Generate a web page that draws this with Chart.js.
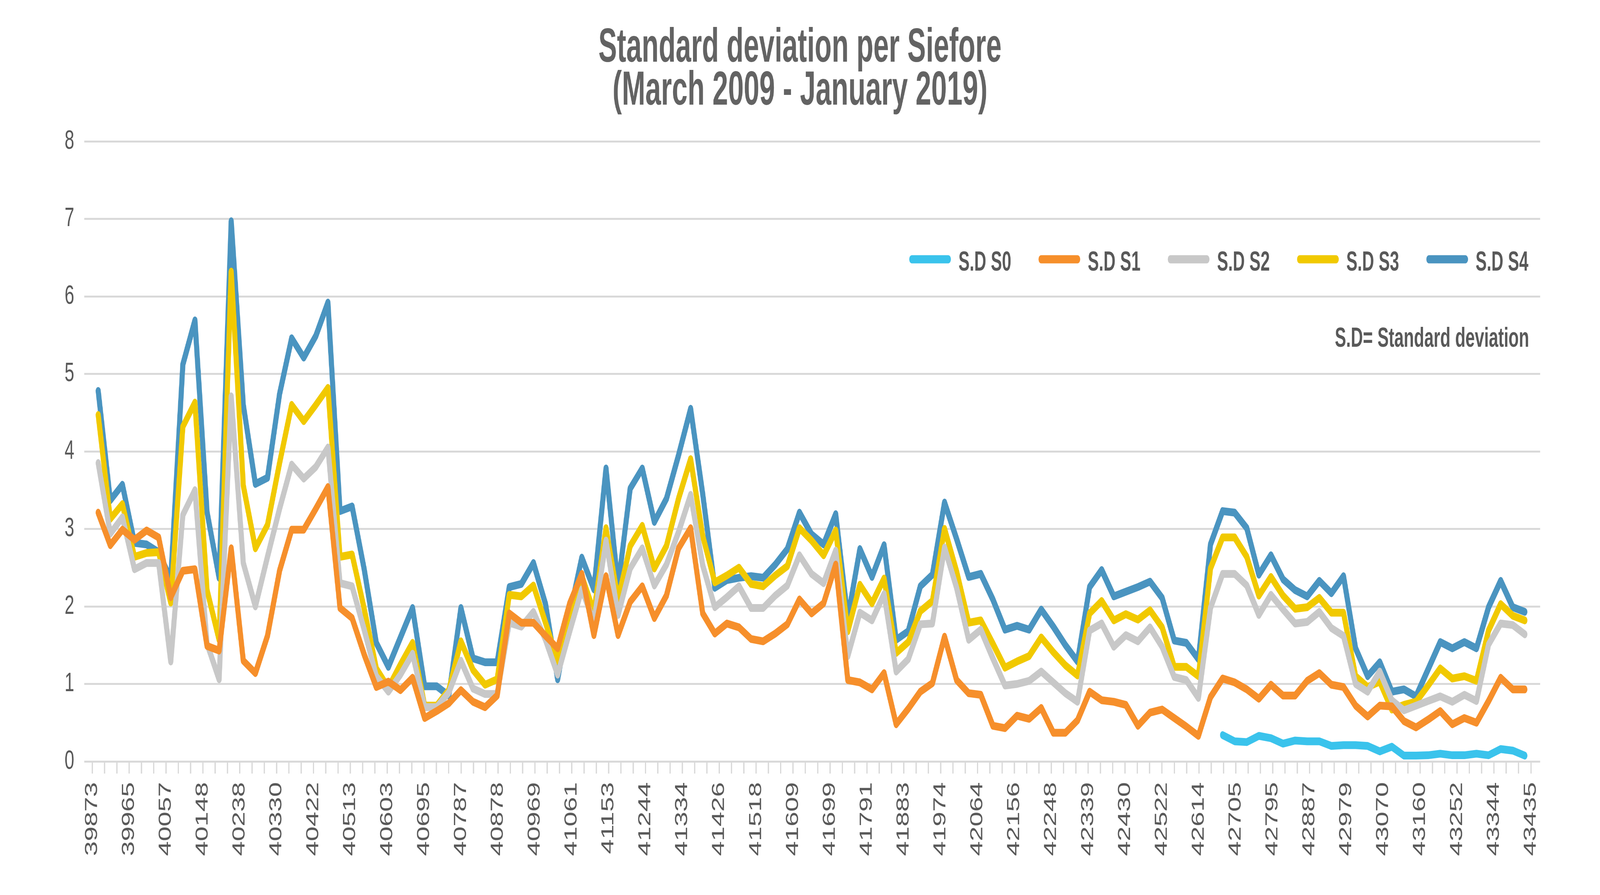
<!DOCTYPE html>
<html>
<head>
<meta charset="utf-8">
<title>Standard deviation per Siefore</title>
<script src="https://cdn.jsdelivr.net/npm/chart.js@4.4.1/dist/chart.umd.min.js"></script>
<style>
  html, body { margin: 0; padding: 0; background: #ffffff; overflow: hidden; }
  #stage { width: 6250px; height: 2292px; position: absolute; left: 0; top: 0; transform-origin: 0 0; }
</style>
</head>
<body>
<div id="stage"><canvas id="sdChart"></canvas></div>
<script>
// monthly observations, Excel date serials (March 2009 - January 2019)
var months = [
  39873, 39904, 39934, 39965, 39995, 40026, 40057, 40087, 40118, 40148,
  40179, 40210, 40238, 40269, 40299, 40330, 40360, 40391, 40422, 40452,
  40483, 40513, 40544, 40575, 40603, 40634, 40664, 40695, 40725, 40756,
  40787, 40817, 40848, 40878, 40909, 40940, 40969, 41000, 41030, 41061,
  41091, 41122, 41153, 41183, 41214, 41244, 41275, 41306, 41334, 41365,
  41395, 41426, 41456, 41487, 41518, 41548, 41579, 41609, 41640, 41671,
  41699, 41730, 41760, 41791, 41821, 41852, 41883, 41913, 41944, 41974,
  42005, 42036, 42064, 42095, 42125, 42156, 42186, 42217, 42248, 42278,
  42309, 42339, 42370, 42401, 42430, 42461, 42491, 42522, 42552, 42583,
  42614, 42644, 42675, 42705, 42736, 42767, 42795, 42826, 42856, 42887,
  42917, 42948, 42979, 43009, 43040, 43070, 43101, 43132, 43160, 43191,
  43221, 43252, 43282, 43313, 43344, 43374, 43405, 43435, 43466
];
// the printed axis stops at 43435 (one slot fewer than the series)
var tickMonths = months.slice(0, 118);

var seriesNames = ['S.D S0', 'S.D S1', 'S.D S2', 'S.D S3', 'S.D S4'];

var s0 = [
  null, null, null, null, null, null, null, null, null, null,
  null, null, null, null, null, null, null, null, null, null,
  null, null, null, null, null, null, null, null, null, null,
  null, null, null, null, null, null, null, null, null, null,
  null, null, null, null, null, null, null, null, null, null,
  null, null, null, null, null, null, null, null, null, null,
  null, null, null, null, null, null, null, null, null, null,
  null, null, null, null, null, null, null, null, null, null,
  null, null, null, null, null, null, null, null, null, null,
  null, null, null, 0.34, 0.26, 0.25, 0.33, 0.30, 0.23, 0.27,
  0.26, 0.26, 0.20, 0.21, 0.21, 0.20, 0.13, 0.19, 0.075, 0.075,
  0.08, 0.10, 0.08, 0.08, 0.10, 0.08, 0.16, 0.14, 0.075
];
var s1 = [
  3.21, 2.79, 2.99, 2.86, 2.98, 2.89, 2.12, 2.46, 2.48, 1.49,
  1.43, 2.75, 1.30, 1.14, 1.62, 2.46, 2.99, 2.99, 3.26, 3.54,
  1.98, 1.85, 1.38, 0.96, 1.03, 0.92, 1.08, 0.56, 0.65, 0.75,
  0.92, 0.77, 0.70, 0.85, 1.91, 1.79, 1.79, 1.62, 1.46, 2.04,
  2.42, 1.63, 2.39, 1.63, 2.06, 2.26, 1.85, 2.14, 2.75, 3.01,
  1.91, 1.65, 1.78, 1.73, 1.58, 1.55, 1.65, 1.77, 2.09, 1.91,
  2.04, 2.54, 1.05, 1.02, 0.93, 1.14, 0.48, 0.68, 0.90, 1.01,
  1.61, 1.05, 0.88, 0.86, 0.46, 0.43, 0.59, 0.55, 0.69, 0.37,
  0.37, 0.53, 0.90, 0.79, 0.77, 0.73, 0.46, 0.63, 0.67, 0.56,
  0.45, 0.33, 0.83, 1.07, 1.02, 0.93, 0.81, 0.99, 0.85, 0.85,
  1.04, 1.14, 0.99, 0.96, 0.72, 0.58, 0.72, 0.71, 0.52, 0.44,
  0.54, 0.65, 0.48, 0.56, 0.50, 0.78, 1.08, 0.93, 0.93
];
var s2 = [
  3.85, 2.94, 3.15, 2.48, 2.56, 2.56, 1.29, 3.18, 3.50, 1.52,
  1.06, 4.71, 2.56, 2.00, 2.64, 3.26, 3.83, 3.65, 3.80, 4.05,
  2.30, 2.26, 1.70, 1.10, 0.90, 1.12, 1.39, 0.70, 0.70, 0.89,
  1.30, 0.94, 0.87, 0.87, 1.79, 1.74, 1.93, 1.57, 1.12, 1.68,
  2.22, 1.80, 2.85, 1.89, 2.49, 2.75, 2.27, 2.54, 2.96, 3.44,
  2.53, 1.99, 2.12, 2.26, 1.98, 1.98, 2.14, 2.27, 2.66, 2.42,
  2.30, 2.72, 1.36, 1.92, 1.82, 2.16, 1.16, 1.32, 1.77, 1.78,
  2.76, 2.24, 1.57, 1.70, 1.33, 0.98, 1.00, 1.04, 1.16, 1.02,
  0.88, 0.77, 1.69, 1.78, 1.48, 1.63, 1.55, 1.73, 1.48, 1.09,
  1.05, 0.82, 1.98, 2.42, 2.42, 2.27, 1.89, 2.15, 1.96, 1.78,
  1.80, 1.93, 1.72, 1.62, 1.00, 0.90, 1.16, 0.79, 0.66, 0.72,
  0.78, 0.84, 0.77, 0.86, 0.78, 1.51, 1.78, 1.76, 1.64
];
var s3 = [
  4.47, 3.13, 3.32, 2.64, 2.69, 2.70, 2.05, 4.32, 4.63, 2.21,
  1.57, 6.32, 3.56, 2.75, 3.05, 3.85, 4.60, 4.39, 4.60, 4.82,
  2.64, 2.67, 1.97, 1.20, 0.95, 1.25, 1.53, 0.72, 0.72, 0.92,
  1.55, 1.18, 0.99, 1.06, 2.15, 2.13, 2.27, 1.79, 1.30, 1.85,
  2.39, 1.93, 3.01, 2.09, 2.78, 3.04, 2.49, 2.78, 3.39, 3.90,
  2.91, 2.31, 2.40, 2.50, 2.29, 2.26, 2.40, 2.52, 3.01, 2.85,
  2.66, 2.98, 1.68, 2.28, 2.04, 2.36, 1.40, 1.54, 1.94, 2.07,
  3.00, 2.45, 1.79, 1.82, 1.52, 1.21, 1.29, 1.36, 1.60, 1.41,
  1.24, 1.11, 1.91, 2.07, 1.82, 1.90, 1.83, 1.95, 1.73, 1.22,
  1.22, 1.10, 2.49, 2.89, 2.89, 2.64, 2.14, 2.38, 2.14, 1.97,
  1.99, 2.11, 1.92, 1.92, 1.10, 0.96, 1.03, 0.67, 0.73, 0.77,
  0.98, 1.20, 1.07, 1.10, 1.04, 1.69, 2.03, 1.88, 1.82
];
var s4 = [
  4.78, 3.37, 3.57, 2.82, 2.80, 2.70, 2.35, 5.12, 5.69, 3.22,
  2.37, 6.97, 4.60, 3.58, 3.66, 4.74, 5.46, 5.21, 5.49, 5.92,
  3.23, 3.29, 2.48, 1.53, 1.22, 1.60, 1.98, 0.97, 0.97, 0.85,
  1.98, 1.33, 1.28, 1.28, 2.25, 2.29, 2.56, 2.03, 1.06, 1.90,
  2.63, 2.22, 3.78, 2.26, 3.52, 3.78, 3.09, 3.39, 3.95, 4.55,
  3.45, 2.24, 2.34, 2.37, 2.39, 2.37, 2.54, 2.74, 3.21, 2.93,
  2.80, 3.19, 1.85, 2.74, 2.38, 2.79, 1.57, 1.68, 2.26, 2.41,
  3.34, 2.87, 2.38, 2.42, 2.09, 1.70, 1.75, 1.70, 1.96, 1.74,
  1.50, 1.29, 2.25, 2.47, 2.13, 2.19, 2.25, 2.32, 2.11, 1.56,
  1.53, 1.32, 2.80, 3.23, 3.21, 3.01, 2.41, 2.66, 2.35, 2.21,
  2.13, 2.33, 2.17, 2.39, 1.46, 1.10, 1.28, 0.90, 0.93, 0.84,
  1.19, 1.54, 1.46, 1.54, 1.46, 1.99, 2.33, 1.99, 1.93
];
var yTicks = [0, 1, 2, 3, 4, 5, 6, 7, 8];
var titleLines = ['Standard deviation per Siefore', '(March 2009 - January 2019)'];
var footNote = 'S.D= Standard deviation';

var colors = ['#3AC3EC', '#F68F2B', '#C8C8C8', '#F1C900', '#4A94C0'];
var seriesValues = [s0, s1, s2, s3, s4];

var sansFont = '"Liberation Sans", Arial, Helvetica, sans-serif';
var textGrey = '#595959';
var gridGrey = '#D9D9D9';

// the window may be narrower than the 6250px design, fit the whole chart into it
var stage = document.getElementById('stage');
var fitX = Math.min(1, window.innerWidth / 6250);
var fitY = Math.min(1, window.innerHeight / 2292);
stage.style.transform = 'scale(' + fitX + ',' + fitY + ')';

// condensed bold text: regular bold face squeezed horizontally
function condensedText(ctx, text, x, y, size, squeeze, align) {
  ctx.save();
  ctx.font = 'bold ' + size + 'px ' + sansFont;
  ctx.textAlign = align;
  ctx.textBaseline = 'alphabetic';
  ctx.translate(x, y);
  ctx.scale(squeeze, 1);
  ctx.fillText(text, 0, 0);
  ctx.restore();
}

var titleAndLegend = {
  id: 'titleAndLegend',
  afterDraw: function (chart) {
    var ctx = chart.ctx;
    var area = chart.chartArea;
    ctx.save();

    // two-line title, centred on the canvas
    ctx.fillStyle = '#636363';
    condensedText(ctx, titleLines[0], chart.width / 2, 158, 122, 0.89, 'center');
    condensedText(ctx, titleLines[1], chart.width / 2, 268, 122, 0.9, 'center');

    // legend inside the plot, top right
    var x = area.right - 2429;
    var y = area.top + 302;
    chart.data.datasets.forEach(function (ds) {
      ctx.strokeStyle = ds.borderColor;
      ctx.lineWidth = 21;
      ctx.lineCap = 'round';
      ctx.beginPath();
      ctx.moveTo(x + 11, y);
      ctx.lineTo(x + 153, y);
      ctx.stroke();
      ctx.fillStyle = textGrey;
      condensedText(ctx, ds.label, x + 193, y + 29, 70, 0.93, 'left');
      x += 505;
    });
    ctx.fillStyle = textGrey;
    condensedText(ctx, footNote, area.right - 7, area.top + 526, 70, 0.94, 'right');
    ctx.restore();
  }
};

var datasets = seriesNames.map(function (name, i) {
  return {
    label: name,
    data: seriesValues[i],
    borderColor: colors[i],
    backgroundColor: colors[i],
    borderWidth: 20,
    borderCapStyle: 'round',
    borderJoinStyle: 'round',
    pointRadius: 0,
    pointHoverRadius: 0,
    tension: 0,
    spanGaps: false,
    xAxisID: 'x',
    yAxisID: 'y'
  };
});

var sdChart = new Chart(document.getElementById('sdChart'), {
  type: 'line',
  data: {
    labels: months,
    datasets: datasets
  },
  options: {
    responsive: true,
    maintainAspectRatio: false,
    devicePixelRatio: 1,
    animation: false,
    layout: {
      padding: { left: 250, right: 234, top: 362, bottom: 0 }
    },
    plugins: {
      legend: { display: false },
      tooltip: { enabled: false },
      title: { display: false }
    },
    scales: {
      x: {
        type: 'category',
        display: false,
        offset: true
      },
      xTicks: {
        type: 'category',
        labels: tickMonths,
        position: 'bottom',
        offset: false,
        afterFit: function (axis) { axis.height = 342; },
        border: { display: false },
        grid: {
          drawOnChartArea: false,
          drawTicks: true,
          tickLength: 31,
          color: gridGrey,
          lineWidth: 5
        },
        ticks: {
          autoSkip: false,
          minRotation: 90,
          maxRotation: 90,
          padding: 22,
          color: textGrey,
          font: { family: sansFont, size: 68 },
          callback: function (value, index) {
            return index % 3 === 0 ? this.getLabelForValue(value) : '';
          }
        }
      },
      y: {
        position: 'left',
        min: yTicks[0],
        max: yTicks[yTicks.length - 1],
        afterFit: function (axis) { axis.width = 110; },
        border: { display: false },
        grid: {
          color: gridGrey,
          lineWidth: 5,
          drawTicks: true,
          tickLength: 31
        },
        ticks: {
          stepSize: 1,
          padding: 39,
          color: textGrey,
          font: { family: sansFont, size: 68 }
        }
      },
      yRight: {
        position: 'right',
        min: yTicks[0],
        max: yTicks[yTicks.length - 1],
        afterFit: function (axis) { axis.width = 36; },
        border: { display: false },
        grid: {
          drawOnChartArea: false,
          drawTicks: true,
          tickLength: 36,
          color: gridGrey,
          lineWidth: 5
        },
        ticks: { display: false, stepSize: 1 }
      }
    }
  },
  plugins: [titleAndLegend]
});
</script>
</body>
</html>
